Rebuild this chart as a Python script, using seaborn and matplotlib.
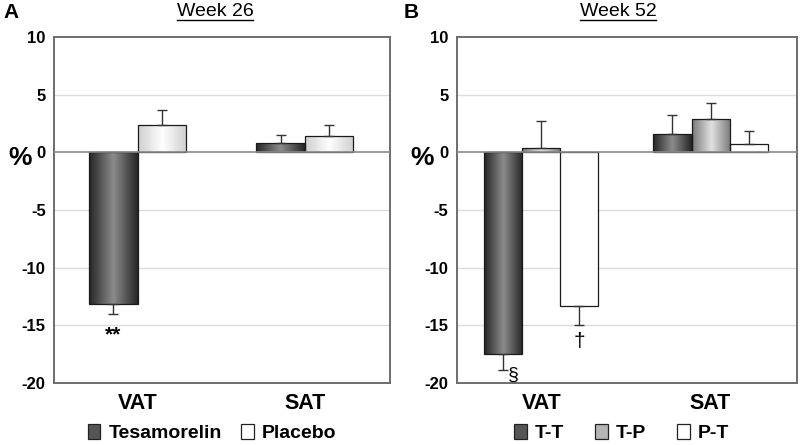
import numpy as np
import pandas as pd
import matplotlib
matplotlib.use("Agg")
import matplotlib.pyplot as plt
import seaborn as sns
from matplotlib.colors import LinearSegmentedColormap
from matplotlib.patches import Patch
from matplotlib.lines import Line2D

# ---------------------------------------------------------------
# Data
# ---------------------------------------------------------------
regions = ["VAT", "SAT"]

groups_a = ["Tesamorelin", "Placebo"]
tesa_26 = [-13.1, 0.85]
tesa_26_err = [0.9, 0.7]
plac_26 = [2.35, 1.4]
plac_26_err = [1.35, 0.95]

groups_b = ["T-T", "T-P", "P-T"]
tt_52 = [-17.5, 1.57]
tt_52_err = [1.4, 1.7]
tp_52 = [0.37, 2.9]
tp_52_err = [2.35, 1.35]
pt_52 = [-13.3, 0.75]
pt_52_err = [1.65, 1.15]

yticks = [10, 5, 0, -5, -10, -15, -20]

# gradient (edge, centre) colours per group
grad = {
    "Tesamorelin": ("#262626", "#8c8c8c"),
    "Placebo": ("#cfcfcf", "#ffffff"),
    "T-T": ("#262626", "#8c8c8c"),
    "T-P": ("#7a7a7a", "#e2e2e2"),
    "P-T": ("#ffffff", "#ffffff"),
}
legend_col = {"Tesamorelin": "#555555", "Placebo": "#ffffff",
              "T-T": "#555555", "T-P": "#b5b5b5", "P-T": "#ffffff"}


def make_df(groups, vals, errs):
    rows = []
    for g, v, e in zip(groups, vals, errs):
        for r, vv, ee in zip(regions, v, e):
            rows.append({"region": r, "group": g, "value": vv, "err": ee})
    return pd.DataFrame(rows)


df_a = make_df(groups_a, [tesa_26, plac_26], [tesa_26_err, plac_26_err])
df_b = make_df(groups_b, [tt_52, tp_52, pt_52], [tt_52_err, tp_52_err, pt_52_err])

plt.rcParams["font.family"] = ["Liberation Sans", "DejaVu Sans"]

fig = plt.figure(figsize=(8, 4.45), dpi=100)
ax_a = fig.add_axes([0.0675, 0.139, 0.42, 0.7775])
ax_b = fig.add_axes([0.571, 0.139, 0.425, 0.7775])


def draw_panel(ax, df, groups, width):
    sns.barplot(data=df, x="region", y="value", hue="group", order=regions,
                hue_order=groups, width=width, dodge=True, errorbar=None,
                legend=False, ax=ax, zorder=3)
    ax.set_xlim(-0.5, 1.51)
    ax.set_ylim(-20, 10)
    ax.set_yticks(yticks)
    ax.set_yticklabels([str(t) for t in yticks], fontsize=12, fontweight="bold")
    ax.tick_params(axis="y", length=0, pad=6)
    ax.tick_params(axis="x", length=0, pad=7)
    ax.set_xticks([0, 1])
    ax.set_xticklabels(regions, fontsize=15.5, fontweight="bold")
    ax.set_xlabel("")
    ax.set_ylabel("")
    for t in [5, -5, -10, -15]:
        ax.axhline(t, color="#dcdcdc", lw=1, zorder=1)
    ax.axhline(0, color="#8a8a8a", lw=1.2, zorder=4)
    for s in ax.spines.values():
        s.set_color("#6e6e6e")
        s.set_linewidth(1.4)

    centres = {}
    for g, cont in zip(groups, ax.containers):
        sub = df[df["group"] == g].set_index("region").loc[regions]
        cmap = LinearSegmentedColormap.from_list(g, [grad[g][0], grad[g][1], grad[g][0]])
        xs = []
        for bar, (r, row) in zip(cont.patches, sub.iterrows()):
            x0, w = bar.get_x(), bar.get_width()
            y0, h = bar.get_y(), bar.get_height()
            xs.append(x0 + w / 2)
            bar.set_edgecolor("#1a1a1a")
            bar.set_linewidth(0.9)
            bar.set_facecolor("none")
            im = ax.imshow(np.linspace(0, 1, 64).reshape(1, -1), cmap=cmap,
                           extent=[x0, x0 + w, min(y0, y0 + h), max(y0, y0 + h)],
                           aspect="auto", zorder=2.5, interpolation="bicubic")
            im.set_clip_path(bar)
            v, e = row["value"], row["err"]
            lower = e if v < 0 else 0
            upper = e if v >= 0 else 0
            ax.errorbar(x0 + w / 2, v, yerr=[[lower], [upper]], fmt="none",
                        ecolor="#333333", elinewidth=1, capsize=3.5, capthick=1, zorder=3)
        centres[g] = xs
    ax.set_xlim(-0.5, 1.51)
    ax.set_ylim(-20, 10)
    return centres


c_a = draw_panel(ax_a, df_a, groups_a, 0.58)
c_b = draw_panel(ax_b, df_b, groups_b, 0.675)

# significance marks
ax_a.text(c_a["Tesamorelin"][0], -15.8, "**", ha="center", va="center",
          fontsize=15, fontweight="bold")
ax_b.text(c_b["T-T"][0] + 0.06, -19.3, "\u00a7", ha="center", va="center", fontsize=14)
ax_b.text(c_b["P-T"][0], -16.4, "\u2020", ha="center", va="center", fontsize=15)

# percent labels
fig.text(20 / 800, 1 - 158 / 445, "%", fontsize=19, fontweight="bold", ha="center", va="center")
fig.text(422 / 800, 1 - 158 / 445, "%", fontsize=19, fontweight="bold", ha="center", va="center")

# panel letters
fig.text(3 / 800, 1 - 12 / 445, "A", fontsize=15, fontweight="bold", ha="left", va="center")
fig.text(404 / 800, 1 - 12 / 445, "B", fontsize=15, fontweight="bold", ha="left", va="center")

# underlined titles
t1 = fig.text(215 / 800, 1 - 12 / 445, "Week 26", fontsize=14, ha="center", va="center")
t2 = fig.text(618 / 800, 1 - 12 / 445, "Week 52", fontsize=14, ha="center", va="center")

# legends
h_a = [Patch(facecolor=legend_col[g], edgecolor="#222222", lw=0.9) for g in groups_a]
ax_a.legend(h_a, groups_a, loc="center", bbox_to_anchor=(0.47, -0.145), ncol=2,
            frameon=False, handlelength=0.65, handleheight=0.75, handletextpad=0.4,
            columnspacing=1.0, prop={"size": 14, "weight": "bold"})
h_b = [Patch(facecolor=legend_col[g], edgecolor="#222222", lw=0.9) for g in groups_b]
ax_b.legend(h_b, groups_b, loc="center", bbox_to_anchor=(0.485, -0.145), ncol=3,
            frameon=False, handlelength=0.65, handleheight=0.75, handletextpad=0.4,
            columnspacing=1.6, prop={"size": 14, "weight": "bold"})

fig.canvas.draw()
r = fig.canvas.get_renderer()
for t in (t1, t2):
    bb = t.get_window_extent(r).transformed(fig.transFigure.inverted())
    fig.add_artist(Line2D([bb.x0, bb.x1], [bb.y0 + 0.002, bb.y0 + 0.002],
                          transform=fig.transFigure, color="black", lw=1))

fig.savefig("out.png", dpi=100)
